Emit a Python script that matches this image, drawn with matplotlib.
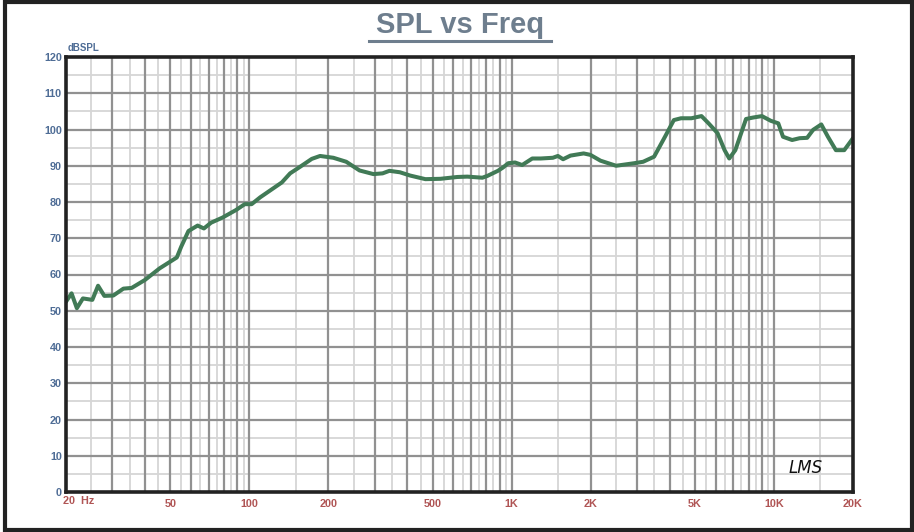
import numpy as np
import matplotlib
matplotlib.use("Agg")
import matplotlib.pyplot as plt
from matplotlib.patches import Rectangle
from matplotlib.lines import Line2D

# ---- data ----
freq_hz = [20, 21.0, 22.0, 23.2, 25.2, 26.5, 28.0, 30.3, 33.1, 35.6, 40.0, 45.5, 52.9,
           55.0, 58.6, 63.5, 67.1, 71.5, 79.0, 89.0, 96.0, 102, 110, 133, 143, 156,
           173, 186, 209, 234, 263, 297, 322, 342, 375, 410, 469, 535, 620, 677, 773,
           808, 886, 926, 970, 1030, 1096, 1198, 1290, 1435, 1500, 1570, 1675, 1880,
           1995, 2180, 2500, 2930, 3170, 3490, 3840, 4150, 4420, 4840, 5290, 5630,
           6090, 6480, 6750, 7120, 7820, 8320, 8990, 9720, 10380, 10820, 11720, 12520,
           13370, 14090, 15140, 16050, 17210, 18520, 20000]
spl_db = [52.5, 54.8, 50.7, 53.4, 53.0, 56.9, 54.1, 54.2, 56.1, 56.3, 58.5, 61.7, 64.7,
          67.7, 72.0, 73.5, 72.7, 74.3, 75.7, 77.8, 79.4, 79.4, 81.3, 85.4, 87.9, 89.7,
          91.9, 92.7, 92.2, 91.1, 88.7, 87.7, 87.9, 88.6, 88.2, 87.3, 86.3, 86.4, 86.9,
          87.0, 86.7, 87.2, 88.6, 89.5, 90.7, 90.9, 90.2, 92.0, 92.0, 92.2, 92.7, 91.8,
          92.8, 93.4, 93.0, 91.4, 90.0, 90.7, 91.1, 92.5, 98.0, 102.6, 103.1, 103.1,
          103.7, 101.7, 99.0, 94.3, 92.0, 94.3, 102.9, 103.3, 103.7, 102.4, 101.7, 98.0,
          97.1, 97.6, 97.7, 99.9, 101.4, 98.0, 94.3, 94.3, 97.6]

x_tick_vals = [20, 50, 100, 200, 500, 1000, 2000, 5000, 10000, 20000]
x_tick_labels = ["", "50", "100", "200", "500", "1K", "2K", "5K", "10K", "20K"]
y_tick_vals = list(range(0, 121, 10))

W, H = 914, 532
fig = plt.figure(figsize=(W / 100, H / 100), dpi=100)
fig.patch.set_facecolor("white")
plt.rcParams['font.family'] = ['Liberation Sans', 'DejaVu Sans']

ax = fig.add_axes([66 / W, 1 - 492 / H, (853 - 66) / W, (492 - 57) / H])
ax.set_xscale("log")
ax.set_xlim(20, 20000)
ax.set_ylim(0, 120)

# grid lines
light = "#d6d6d6"
dark = "#919191"
for y in range(5, 120, 10):
    ax.axhline(y, color=light, lw=1.3, zorder=1)
for y in range(10, 120, 10):
    ax.axhline(y, color=dark, lw=1.6, zorder=2)
for dec in [10, 100, 1000, 10000]:
    for m in np.arange(1.5, 10.0, 1.0):
        f = m * dec
        if 20 < f < 20000:
            ax.axvline(f, color=light, lw=1.3, zorder=1)
    for m in range(1, 10):
        f = m * dec
        if 20 < f < 20000:
            ax.axvline(f, color=dark, lw=1.6, zorder=2)

ax.plot(freq_hz, spl_db, color="#417a56", lw=2.9, zorder=5,
        solid_joinstyle="round", solid_capstyle="round")

for s in ax.spines.values():
    s.set_color("#222222")
    s.set_linewidth(2.6)
    s.set_zorder(6)

ax.set_xticks(x_tick_vals)
ax.set_xticklabels(x_tick_labels)
ax.xaxis.set_minor_locator(matplotlib.ticker.NullLocator())
ax.set_yticks(y_tick_vals)
ax.set_yticklabels([str(v) for v in y_tick_vals])
ax.tick_params(axis="both", length=0)
ax.tick_params(axis="x", pad=5, labelsize=7.8, labelcolor="#b05555")
ax.tick_params(axis="y", pad=3, labelsize=7.8, labelcolor="#4f6d96")
for lbl in ax.get_xticklabels() + ax.get_yticklabels():
    lbl.set_fontweight("bold")

# first x label "20  Hz"
fig.text(63 / W, 1 - 501 / H, "20  Hz", color="#b05555", fontsize=7.8,
         fontweight="bold", ha="left", va="center")
# y-axis unit
fig.text(68 / W, 1 - 48 / H, "dBSPL", color="#4f6d96", fontsize=7,
         fontweight="bold", ha="left", va="center")

# title with underline
title_color = "#6e7e8e"
fig.text(460 / W, 1 - 25 / H, "SPL vs Freq", color=title_color, fontsize=21,
         fontweight="bold", ha="center", va="center")
fig.add_artist(Line2D([369 / W, 551 / W], [1 - 40.5 / H, 1 - 40.5 / H],
                      color=title_color, lw=2.2, transform=fig.transFigure))

# LMS mark
ax.text(0.94, 0.035, "LMS", transform=ax.transAxes, fontsize=12,
        fontstyle="italic", color="#111111", ha="center", va="bottom",
        family=["DejaVu Sans"], zorder=7)

# outer border
fig.add_artist(Rectangle((5 / W, 1 - 530 / H), (912 - 5) / W, (530 - 1.5) / H,
                         transform=fig.transFigure, fill=False,
                         edgecolor="#222222", lw=3.0))

fig.savefig("out.png", dpi=100)
